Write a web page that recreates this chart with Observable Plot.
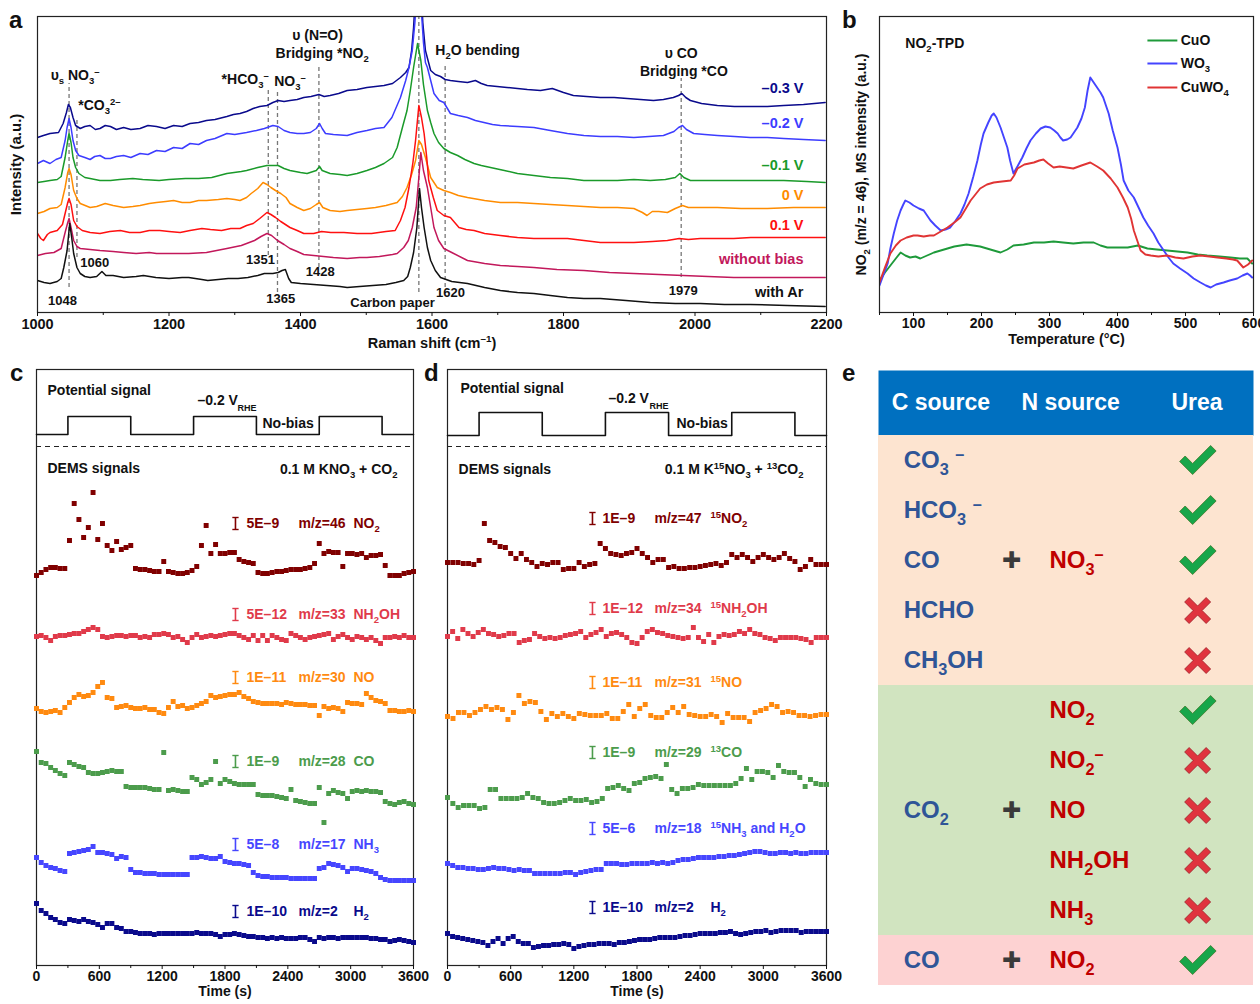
<!DOCTYPE html>
<html><head><meta charset="utf-8">
<script src="https://cdn.jsdelivr.net/npm/d3@7"></script>
<script src="https://cdn.jsdelivr.net/npm/@observablehq/plot@0.6"></script>
<style>
body{margin:0;background:#fff;}
#fig{position:relative;width:1260px;height:1004px;overflow:hidden;background:#fff;font-family:"Liberation Sans",Arial,Helvetica,sans-serif;}
.letter{position:absolute;font-weight:bold;font-size:24px;line-height:24px;color:#111;}
</style></head>
<body><div id="fig"></div>
<script>
// ---------------- DATA ----------------
// Panel a: Raman spectra, [Raman shift (cm-1), intensity (a.u., offset)]
const ramanM03 = [[1000,175],[1009,177],[1019,179],[1032,180],[1039,189],[1044,200],[1047,208],[1050,205],[1054,195],[1058,187],[1065,184],[1072,186],[1080,187],[1088,183],[1095,184],[1103,187],[1111,186],[1120,183],[1131,185],[1142,183],[1156,184],[1168,187],[1181,186],[1194,184],[1207,187],[1220,186],[1232,189],[1245,190],[1257,192],[1270,193],[1288,196],[1298,198],[1308,199],[1318,201],[1328,204],[1338,206],[1349,207],[1358,210],[1366,212],[1375,211],[1384,212],[1395,213],[1405,215],[1416,216],[1428,218],[1436,216],[1445,217],[1458,219],[1471,222],[1486,223],[1501,225],[1514,226],[1527,227],[1540,229],[1552,235],[1560,240],[1565,245],[1569,262],[1572,285],[1575,320],[1579,360],[1583,330],[1586,290],[1590,262],[1598,242],[1605,238],[1613,236],[1620,233],[1628,232],[1640,231],[1654,230],[1666,232],[1675,229],[1684,227],[1699,226],[1714,225],[1730,224],[1745,223],[1765,222],[1783,224],[1800,220],[1815,217],[1835,216],[1856,215],[1877,215],[1897,214],[1917,213],[1937,212],[1952,213],[1967,215],[1975,217],[1980,219],[1986,215],[1993,212],[2010,209],[2034,207],[2060,206],[2084,206],[2110,206],[2135,207],[2165,208],[2198,210]];
const ramanM02 = [[1000,149],[1009,152],[1019,149],[1028,153],[1036,155],[1042,172],[1045,185],[1048,194],[1051,185],[1054,172],[1058,162],[1063,157],[1072,155],[1080,153],[1087,156],[1095,157],[1103,154],[1111,154],[1120,156],[1131,157],[1142,155],[1156,159],[1168,158],[1181,162],[1194,161],[1207,165],[1220,164],[1232,169],[1245,168],[1257,172],[1270,174],[1288,179],[1300,178],[1318,180],[1333,182],[1345,184],[1358,187],[1366,186],[1375,182],[1384,180],[1395,179],[1405,179],[1415,180],[1424,184],[1429,189],[1433,184],[1438,179],[1450,178],[1471,177],[1486,180],[1501,182],[1514,184],[1527,185],[1539,195],[1552,215],[1560,232],[1565,245],[1570,262],[1574,290],[1577,320],[1580,340],[1584,300],[1587,270],[1590,250],[1593,245],[1603,219],[1611,212],[1618,210],[1628,199],[1640,197],[1654,195],[1666,192],[1679,190],[1692,188],[1704,187],[1730,186],[1755,185],[1780,182],[1806,179],[1831,177],[1856,176],[1882,176],[1907,175],[1930,176],[1952,177],[1968,181],[1975,185],[1981,187],[1987,183],[1998,179],[2015,178],[2034,177],[2060,176],[2084,175],[2110,175],[2135,174],[2165,173],[2198,172]];
const ramanM01 = [[1000,130],[1010,131],[1019,132],[1030,133],[1036,136],[1042,155],[1046,172],[1048,179],[1051,170],[1054,155],[1058,145],[1063,139],[1072,135],[1080,134],[1095,132],[1111,132],[1125,133],[1145,134],[1160,133],[1185,132],[1200,133],[1225,134],[1245,134],[1265,135],[1288,139],[1310,141],[1318,142],[1335,145],[1349,147],[1358,147],[1366,147],[1375,144],[1384,142],[1400,140],[1410,139],[1424,142],[1429,146],[1433,142],[1445,139],[1460,138],[1471,137],[1486,139],[1501,142],[1514,145],[1527,149],[1540,155],[1547,165],[1555,185],[1562,202],[1567,222],[1572,245],[1578,269],[1583,252],[1587,228],[1593,202],[1598,190],[1603,179],[1610,170],[1618,164],[1628,160],[1639,157],[1650,153],[1664,149],[1675,147],[1689,145],[1710,142],[1730,139],[1755,137],[1780,135],[1806,134],[1831,132],[1856,132],[1882,132],[1907,133],[1932,132],[1955,133],[1970,135],[1977,139],[1983,135],[1993,132],[2020,132],[2059,132],[2100,132],[2135,132],[2170,131],[2198,130]];
const ramanV0 = [[1000,99],[1010,101],[1019,104],[1030,105],[1036,108],[1042,125],[1046,140],[1048,144],[1051,138],[1055,122],[1060,114],[1065,109],[1080,105],[1090,106],[1103,109],[1115,107],[1131,105],[1145,106],[1156,107],[1170,109],[1181,110],[1195,111],[1207,112],[1220,110],[1232,110],[1245,112],[1257,112],[1275,113],[1288,114],[1300,113],[1308,112],[1318,115],[1325,119],[1335,124],[1343,130],[1349,128],[1355,125],[1362,122],[1370,119],[1378,115],[1384,109],[1395,105],[1405,102],[1415,104],[1424,108],[1429,110],[1434,105],[1445,102],[1460,101],[1471,102],[1486,103],[1501,104],[1514,105],[1530,107],[1547,110],[1555,116],[1562,125],[1569,138],[1575,152],[1580,172],[1584,168],[1590,155],[1598,135],[1608,125],[1618,122],[1628,120],[1640,117],[1654,115],[1680,112],[1704,110],[1730,110],[1755,109],[1780,108],[1806,107],[1831,106],[1856,105],[1882,105],[1907,104],[1920,100],[1927,97],[1935,101],[1945,101],[1958,100],[1970,104],[1981,107],[1990,105],[2010,105],[2034,105],[2070,104],[2110,104],[2150,105],[2198,105]];
const ramanP01 = [[1000,79],[1005,74],[1009,72],[1015,78],[1019,80],[1030,82],[1038,88],[1042,99],[1046,110],[1048,114],[1051,108],[1055,92],[1060,86],[1068,82],[1080,80],[1095,79],[1110,81],[1126,82],[1140,80],[1156,80],[1170,82],[1186,82],[1200,81],[1217,80],[1232,82],[1250,84],[1263,83],[1280,82],[1294,84],[1308,84],[1318,87],[1328,89],[1338,94],[1349,100],[1355,98],[1362,95],[1370,91],[1384,85],[1395,82],[1405,79],[1420,79],[1432,81],[1446,80],[1466,80],[1486,79],[1508,79],[1530,81],[1544,82],[1552,92],[1559,105],[1565,125],[1571,150],[1575,172],[1580,207],[1584,195],[1588,179],[1592,155],[1595,132],[1602,115],[1608,102],[1618,97],[1628,95],[1641,85],[1652,83],[1664,82],[1680,79],[1704,77],[1730,75],[1755,74],[1780,74],[1806,74],[1831,72],[1856,70],[1882,70],[1907,70],[1935,71],[1958,72],[1976,74],[1990,73],[2008,74],[2035,74],[2059,74],[2085,75],[2110,75],[2150,75],[2198,75]];
const ramanNoBias = [[1000,57],[1012,59],[1025,60],[1036,64],[1042,80],[1046,90],[1048,94],[1051,85],[1055,72],[1060,66],[1065,64],[1080,63],[1095,62],[1115,61],[1131,60],[1150,59],[1170,60],[1181,59],[1200,59],[1230,59],[1257,60],[1288,64],[1310,67],[1318,69],[1330,72],[1340,76],[1349,79],[1356,77],[1365,72],[1375,68],[1384,64],[1395,61],[1405,58],[1420,57],[1435,56],[1450,55],[1471,54],[1490,55],[1501,55],[1520,56],[1540,58],[1547,59],[1557,65],[1564,72],[1570,85],[1576,105],[1580,135],[1583,160],[1587,142],[1593,125],[1598,105],[1603,85],[1610,72],[1618,64],[1630,60],[1654,52],[1680,49],[1704,47],[1730,46],[1755,45],[1790,43],[1831,42],[1870,40],[1907,39],[1945,38],[1982,37],[2020,36],[2059,35],[2100,35],[2150,35],[2198,35]];
const ramanAr = [[1000,32],[1010,30],[1019,29],[1030,31],[1036,34],[1040,45],[1045,62],[1049,89],[1052,75],[1055,59],[1060,45],[1065,39],[1072,36],[1080,35],[1090,36],[1098,41],[1104,37],[1115,37],[1131,35],[1150,36],[1161,37],[1180,35],[1200,34],[1220,35],[1230,35],[1250,33],[1259,32],[1275,33],[1290,34],[1305,34],[1320,35],[1335,37],[1345,39],[1358,39],[1366,40],[1372,42],[1377,43],[1382,34],[1386,30],[1400,29],[1420,28],[1440,27],[1460,26],[1471,25],[1490,26],[1510,27],[1530,28],[1545,30],[1557,32],[1563,36],[1567,45],[1572,60],[1577,85],[1581,124],[1584,105],[1588,85],[1593,65],[1598,52],[1605,42],[1613,35],[1630,31],[1654,29],[1680,25],[1704,22],[1730,20],[1755,19],[1780,17],[1806,15],[1831,14],[1856,14],[1895,12],[1932,10],[1970,9],[2008,9],[2045,8],[2084,8],[2140,7],[2198,6]];
const ramanSeriesNames = ["–0.3 V","–0.2 V","–0.1 V","0 V","0.1 V","without bias","with Ar"];
// Band marker positions (cm-1) and their dashed-line extents (a.u.)
const bandShift = [1048,1060,1351,1365,1428,1580,1620,1979];
const bandTop = [229,194,222,220,247,296,247,234];
const bandBottom = [25,55,57,20,45,20,25,35];

// Panel b: NO2-TPD, [temperature (°C), MS intensity (a.u.)]
const tpdWO3 = [[50,27],[56,38],[62,49],[66,64],[71,79],[76,92],[81,102],[85,108],[88,112],[94,110],[100,107],[108,104],[115,102],[120,97],[125,92],[132,87],[140,82],[147,83],[154,85],[162,92],[169,99],[175,108],[181,119],[188,136],[194,152],[199,168],[203,179],[210,190],[215,197],[218,199],[222,195],[228,185],[233,175],[238,165],[242,152],[247,139],[252,145],[256,150],[260,155],[266,164],[272,172],[280,179],[287,184],[294,186],[301,185],[307,182],[312,179],[316,175],[320,172],[326,173],[331,175],[336,180],[341,185],[347,194],[352,205],[356,222],[360,235],[365,230],[370,225],[375,220],[379,215],[384,205],[387,199],[393,182],[400,165],[405,148],[409,132],[416,122],[424,115],[431,105],[438,95],[445,87],[453,79],[460,70],[468,62],[475,55],[482,49],[492,44],[503,39],[512,34],[522,30],[530,27],[537,25],[545,28],[556,30],[565,32],[576,34],[584,37],[591,39],[595,37],[598,35]];
const tpdCuWO4 = [[50,30],[58,45],[66,59],[74,67],[81,72],[90,75],[100,77],[106,77],[115,76],[124,77],[130,77],[140,81],[150,85],[160,90],[169,95],[177,104],[184,112],[191,118],[198,124],[208,128],[218,130],[230,131],[243,132],[248,137],[253,144],[263,148],[277,150],[285,152],[291,153],[298,149],[306,145],[315,146],[325,145],[335,144],[347,147],[360,150],[370,146],[379,142],[390,134],[400,125],[408,115],[415,105],[420,94],[424,82],[429,72],[434,62],[441,58],[449,57],[460,56],[473,57],[485,55],[497,54],[510,56],[522,57],[535,56],[547,55],[560,54],[570,53],[576,52],[585,45],[592,48],[598,52]];
const tpdCuO = [[50,32],[58,40],[66,47],[74,54],[81,60],[88,57],[95,55],[103,56],[110,54],[120,57],[130,60],[140,62],[150,64],[160,66],[169,67],[178,68],[188,67],[198,66],[208,64],[218,62],[228,60],[238,63],[247,67],[262,68],[277,70],[292,70],[306,71],[320,70],[335,69],[350,70],[365,70],[375,67],[385,65],[400,65],[415,65],[430,67],[444,64],[458,63],[473,62],[488,61],[503,60],[518,58],[532,57],[550,56],[566,55],[580,54],[591,54],[598,49]];
const tpdNames = ["CuO","WO₃","CuWO₄"];

// Panels c, d: potential programme (s) and bias state
const potentialTimes = [0,300,900,1500,2100,2700,3300,3600];
const potentialBias = [0,1,0,1,0,1,0,0];

// Panel c: DEMS signals (a.u., offset), evenly sampled over 0–3600 s
const cNO2 = [390,393,396,398,398,397,397,425,462,446,428,438,473,426,442,420,415,424,416,418,420,397,396,396,395,394,394,404,394,393,392,392,393,395,399,420,440,412,421,412,412,413,413,406,404,403,402,393,392,392,393,394,394,395,396,396,396,397,398,402,422,412,414,413,413,399,412,412,411,412,408,410,410,411,400,390,390,390,392,393,394];
const cNH2OH = [329,330,328,325,329,330,330,331,332,332,334,336,338,336,329,328,329,330,330,329,330,330,328,329,328,331,331,332,331,328,329,326,323,328,331,328,329,330,329,330,331,332,332,330,328,326,330,325,330,325,330,328,326,325,332,330,328,326,328,329,330,331,332,326,329,331,328,326,329,328,326,328,325,322,328,328,329,328,330,328,328];
const cNO = [257,254,253,254,255,253,258,263,268,271,269,270,273,279,283,268,267,258,259,260,258,257,257,258,256,256,253,252,258,264,259,260,257,258,260,262,264,270,268,269,270,271,271,273,269,267,264,263,262,262,262,262,261,263,262,261,261,261,260,260,250,259,257,258,257,254,263,262,262,261,272,268,265,264,262,255,255,254,254,255,254];
const cCO = [214,203,202,198,195,192,190,203,201,199,198,193,192,192,193,194,195,194,194,179,178,178,178,178,177,176,176,213,175,176,175,174,174,188,186,181,183,186,204,182,186,184,182,181,181,181,181,171,170,170,170,169,168,167,176,165,164,163,162,162,178,143,172,175,173,172,167,174,175,174,175,174,174,173,164,162,161,163,164,162,161];
const cNH3 = [108,103,100,98,97,95,94,112,113,114,115,116,119,113,113,112,111,107,109,108,96,93,93,92,92,92,91,91,91,91,91,91,91,108,108,109,108,107,107,109,104,103,102,102,101,100,93,90,89,89,88,88,88,88,87,87,87,87,87,87,97,98,102,101,100,98,94,97,97,96,95,94,92,88,86,85,85,85,85,85,85];
const cH2 = [62,55,52,48,46,43,42,46,45,44,46,44,43,41,38,42,42,38,37,34,34,33,32,32,32,31,32,32,32,32,32,32,32,32,33,32,32,32,31,29,31,31,32,31,30,29,29,28,28,27,28,27,28,27,27,27,28,28,26,24,28,27,28,28,27,28,28,28,28,28,28,27,27,26,26,24,25,26,25,24,23];

// Panel d: isotope-labelled DEMS signals (a.u., offset)
const dNO2 = [403,403,403,402,402,401,405,442,425,423,419,418,412,407,412,406,403,399,402,401,403,403,396,397,397,403,399,401,402,422,417,412,411,410,412,413,417,412,408,403,406,406,398,399,397,397,398,398,399,400,401,402,400,403,411,408,411,408,404,408,411,408,406,408,412,407,404,396,399,406,401,401,401];
const dNH2OH = [329,334,327,336,332,329,333,336,332,331,329,330,332,332,323,325,326,332,329,327,328,327,328,330,331,332,334,328,331,333,336,329,332,333,331,328,323,322,328,334,336,333,332,330,329,328,327,328,338,328,324,331,323,329,331,330,331,334,332,336,332,331,328,327,325,328,328,328,328,327,326,323,328,328,328];
const dNO = [249,247,253,253,250,253,256,259,256,258,256,246,253,270,262,264,263,254,246,252,249,252,249,247,252,251,250,250,250,252,247,247,254,261,249,257,261,250,248,248,253,258,253,259,251,250,249,249,251,249,243,252,248,248,248,244,253,255,257,261,259,253,254,253,250,250,249,250,251,251];
const dCO = [168,162,158,160,160,160,157,158,176,176,167,167,167,167,168,172,168,167,163,162,162,163,165,167,165,165,166,163,164,167,177,178,180,177,175,182,183,187,188,189,187,201,176,172,177,177,178,181,180,180,180,180,180,180,182,187,197,186,194,194,193,188,200,194,193,193,188,179,186,182,181,181];
const dNH3 = [102,100,98,98,97,97,96,96,97,98,97,97,96,95,96,95,95,92,92,92,92,92,92,93,93,91,93,94,95,96,96,102,102,102,101,101,102,102,102,102,103,102,103,102,103,105,106,106,107,108,108,108,108,109,109,110,110,111,112,113,114,114,113,112,112,113,113,112,113,112,112,113,113,113,113];
const dH2 = [32,29,28,27,26,25,24,23,20,24,27,22,27,29,24,22,22,18,19,20,20,21,21,22,21,17,19,20,21,21,22,22,22,21,23,23,24,25,26,26,26,27,28,28,28,28,29,30,30,31,32,32,32,32,33,33,34,32,31,32,33,34,34,35,33,34,35,35,35,35,33,34,34,34,34,34];

// Labels for the DEMS traces
const cScales = ["5E–9","5E–12","1E–11","1E–9","5E–8","1E–10"];
const cMasses = ["m/z=46","m/z=33","m/z=30","m/z=28","m/z=17","m/z=2"];
const cSpecies = ["NO₂","NH₂OH","NO","CO","NH₃","H₂"];
const dScales = ["1E–9","1E–12","1E–11","1E–9","5E–6","1E–10"];
const dMasses = ["m/z=47","m/z=34","m/z=31","m/z=29","m/z=18","m/z=2"];
const dSpecies = ["¹⁵NO₂","¹⁵NH₂OH","¹⁵NO","¹³CO","¹⁵NH₃ and H₂O","H₂"];
const cLabelLevel = [442,351,288,204,121,54];
const dLabelLevel = [447,357,283,213,137,58];

// Panel e: table
const tableHeader = ["C source","N source","Urea"];
const tableCSource = ["CO₃ ⁻","HCO₃ ⁻","CO","HCHO","CH₃OH","","","CO₂","","","CO"];
const tablePlus = [0,0,1,0,0,0,0,1,0,0,1];
const tableNSource = ["","","NO₃⁻","","","NO₂","NO₂⁻","NO","NH₂OH","NH₃","NO₂"];
const tableUrea = [1,1,1,0,0,1,0,0,0,0,1];
const tableGroup = [0,0,0,0,0,1,1,1,1,1,2];

// ---------------- STYLE / LAYOUT ----------------
const FONT = '"Liberation Sans", Arial, Helvetica, sans-serif';
const ramanColors = ["#0a0a8c","#3c3cff","#1a9a2a","#ff8c00","#ff1010","#c2185b","#111111"];
const tpdColors = ["#1e9a3a","#4444ff","#e03434"];
const demsColors = ["#800000","#e03a4a","#ff8a10","#4c9c4c","#4646ff","#0a0a8c"];
const groupFill = ["#fde4d0","#d1e4c0","#fdd2d2"];
const fig = document.getElementById("fig");
function place(el, left, top, w) {
  const d = document.createElement("div");
  d.style.position = "absolute"; d.style.left = left + "px"; d.style.top = top + "px"; d.style.width = w + "px";
  d.appendChild(el); fig.appendChild(d);
  richify(el);
}
function letter(ch, left, top) {
  const d = document.createElement("div"); d.className = "letter"; d.textContent = ch;
  d.style.left = left + "px"; d.style.top = top + "px"; fig.appendChild(d);
}
// turn Unicode sub/superscript characters into shifted tspans (real text kept)
const SUB = {"₀":"0","₁":"1","₂":"2","₃":"3","₄":"4","₅":"5","₆":"6","₇":"7","₈":"8","₉":"9","ₛ":"s"};
const SUP = {"⁰":"0","¹":"1","²":"2","³":"3","⁴":"4","⁵":"5","⁶":"6","⁷":"7","⁸":"8","⁹":"9","⁻":"–"};
function richify(root) {
  root.querySelectorAll("text").forEach(el => {
    if (el.querySelector("tspan")) return;
    const chars = [...el.textContent];
    if (!chars.some(c => c in SUB || c in SUP)) return;
    const fs = parseFloat(getComputedStyle(el).fontSize) || 14;
    const runs = [];
    for (const c of chars) {
      const type = c in SUB ? 1 : c in SUP ? -1 : 0;
      const ch = type === 1 ? SUB[c] : type === -1 ? SUP[c] : c;
      if (runs.length && runs[runs.length - 1].type === type) runs[runs.length - 1].s += ch;
      else runs.push({type, s: ch});
    }
    const dyAttr = el.getAttribute("dy");
    let baseDy = 0;
    if (dyAttr) baseDy = dyAttr.endsWith("em") ? parseFloat(dyAttr) * fs : parseFloat(dyAttr);
    el.textContent = "";
    let cur = 0;
    runs.forEach((r, k) => {
      const ts = document.createElementNS("http://www.w3.org/2000/svg", "tspan");
      const target = r.type === 1 ? 0.28 * fs : r.type === -1 ? -0.36 * fs : 0;
      let dy = target - cur;
      if (k === 0) dy += baseDy;
      ts.setAttribute("dy", dy.toFixed(2));
      if (r.type) ts.setAttribute("font-size", (0.68 * fs).toFixed(1));
      cur = target;
      ts.textContent = r.s;
      el.appendChild(ts);
    });
  });
}
// custom symbols for the table (tick and cross), unit = 1/18 of the radius
const checkSymbol = {draw(ctx, size) {
  const u = Math.sqrt(size / Math.PI) / 18;
  const p = [[-18,1],[-12.5,-4.5],[-5,3],[13,-15],[18.5,-9.5],[-5,14]];
  ctx.moveTo(p[0][0] * u, p[0][1] * u);
  for (let i = 1; i < p.length; ++i) ctx.lineTo(p[i][0] * u, p[i][1] * u);
  ctx.closePath();
}};
const crossSymbol = {draw(ctx, size) {
  const u = Math.sqrt(size / Math.PI) / 18;
  const p = [[-13,-8.5],[-8.5,-13],[0,-4.5],[8.5,-13],[13,-8.5],[4.5,0],[13,8.5],[8.5,13],[0,4.5],[-8.5,13],[-13,8.5],[-4.5,0]];
  ctx.moveTo(p[0][0] * u, p[0][1] * u);
  for (let i = 1; i < p.length; ++i) ctx.lineTo(p[i][0] * u, p[i][1] * u);
  ctx.closePath();
}};
const baseStyle = (fs) => ({fontFamily: FONT, fontSize: fs, fontWeight: "bold", overflow: "visible", background: "transparent", color: "#111"});
const T = (x, y, text, o = {}) => Plot.text([text], {x: () => x, y: () => y, text: d => d, ...o});

// ---------------- PANEL a ----------------
const ramanData = [ramanM03, ramanM02, ramanM01, ramanV0, ramanP01, ramanNoBias, ramanAr];
const ramanNameLevel = [224,189,147,117,87,53,20];
const pa = Plot.plot({
  width: 840, height: 360, marginLeft: 37, marginRight: 14, marginTop: 16, marginBottom: 48,
  style: baseStyle("14px"),
  x: {domain: [1000, 2200]},
  y: {domain: [0, 296], axis: null},
  marks: [
    Plot.ruleX(bandShift, {x: d => d, y1: (d, i) => bandBottom[i], y2: (d, i) => bandTop[i], stroke: "#777", strokeWidth: 1.3, strokeDasharray: "4,3"}),
    ...ramanData.map((s, k) => Plot.line(s, {x: d => d[0], y: d => d[1], stroke: ramanColors[k], strokeWidth: 1.5, clip: true})),
    Plot.frame({stroke: "#222", strokeWidth: 1.2}),
    Plot.axisX({ticks: [1000,1200,1400,1600,1800,2000,2200], tickFormat: "d", tickSize: 4, tickPadding: 2, label: null, fontSize: 14.5}),
    Plot.axisX({ticks: [1100,1300,1500,1700,1900,2100], tickFormat: () => "", tickSize: 3, label: null}),
    ...ramanSeriesNames.map((n, k) => T(2165, ramanNameLevel[k], n, {textAnchor: "end", fill: ramanColors[k], fontSize: 14.5})),
    T(1020, 237, "υₛ NO₃⁻", {textAnchor: "start"}),
    T(1062, 207, "*CO₃²⁻", {textAnchor: "start"}),
    T(1280, 233, "*HCO₃⁻", {textAnchor: "start"}),
    T(1360, 231, "NO₃⁻", {textAnchor: "start"}),
    T(1426, 277, "υ (N=O)", {textAnchor: "middle"}),
    T(1433, 259, "Bridging *NO₂", {textAnchor: "middle"}),
    T(1605, 262, "H₂O bending", {textAnchor: "start"}),
    T(1979, 259, "υ CO", {textAnchor: "middle"}),
    T(1983, 241, "Bridging *CO", {textAnchor: "middle"}),
    T(1038, 12, "1048", {fontSize: 13}),
    T(1087, 50, "1060", {fontSize: 13}),
    T(1339, 53, "1351", {fontSize: 13}),
    T(1370, 14, "1365", {fontSize: 13}),
    T(1430, 41, "1428", {fontSize: 13}),
    T(1540, 10, "Carbon paper", {fontSize: 13}),
    T(1628, 20, "1620", {fontSize: 13}),
    T(1982, 22, "1979", {fontSize: 13}),
    Plot.text(["Raman shift (cm⁻¹)"], {frameAnchor: "bottom", dy: 35, fontSize: 14.5, textAnchor: "middle"}),
    Plot.text(["Intensity (a.u.)"], {frameAnchor: "left", dx: -21, rotate: -90, fontSize: 15, textAnchor: "middle"})
  ]
});
place(pa, 0, 0, 840);

// ---------------- PANEL b ----------------
const tpdData = [tpdCuO, tpdWO3, tpdCuWO4];
const tpdLegendLevel = [272, 249, 225];
const pb = Plot.plot({
  width: 420, height: 360, marginLeft: 39, marginRight: 7, marginTop: 16, marginBottom: 48,
  style: baseStyle("14px"),
  x: {domain: [50, 600]},
  y: {domain: [0, 296], axis: null},
  marks: [
    ...tpdData.map((s, k) => Plot.line(s, {x: d => d[0], y: d => d[1], stroke: tpdColors[k], strokeWidth: 1.9, clip: true})),
    Plot.frame({stroke: "#222", strokeWidth: 1.2}),
    Plot.axisX({ticks: [100,200,300,400,500,600], tickFormat: "d", tickSize: 4, tickPadding: 2, label: null, fontSize: 14}),
    Plot.axisX({ticks: [50,150,250,350,450,550], tickFormat: () => "", tickSize: 3, label: null}),
    ...tpdNames.map((n, k) => Plot.link([n], {x1: () => 444, x2: () => 488, y1: () => tpdLegendLevel[k], y2: () => tpdLegendLevel[k], stroke: tpdColors[k], strokeWidth: 2})),
    ...tpdNames.map((n, k) => T(493, tpdLegendLevel[k], n, {textAnchor: "start", fontSize: 14})),
    T(88, 269, "NO₂-TPD", {textAnchor: "start", fontSize: 14}),
    Plot.text(["Temperature (°C)"], {frameAnchor: "bottom", dy: 31, fontSize: 14.5, textAnchor: "middle"}),
    Plot.text(["NO₂ (m/z = 46), MS intensity (a.u.)"], {frameAnchor: "left", dx: -18, rotate: -90, fontSize: 14, textAnchor: "middle"})
  ]
});
place(pb, 840, 0, 420);

// ---------------- PANELS c, d ----------------
function evenly(vals) { const n = vals.length; return vals.map((v, i) => ({t: i * 3600 / (n - 1), v})); }
function dems(cfg) {
  const pot = potentialTimes.map((t, i) => ({t, v: potentialBias[i] ? cfg.hi : cfg.lo}));
  const marks = [
    Plot.frame({stroke: "#222", strokeWidth: 1.2}),
    Plot.axisX({ticks: [0,600,1200,1800,2400,3000,3600], tickFormat: "d", tickSize: 4, tickPadding: 2, label: null, fontSize: 14}),
    Plot.axisX({ticks: [300,900,1500,2100,2700,3300], tickFormat: () => "", tickSize: 3, label: null}),
    Plot.line(pot, {x: "t", y: "v", curve: "step-after", stroke: "#111", strokeWidth: 1.6}),
    Plot.ruleY([cfg.dash], {stroke: "#222", strokeWidth: 1.2, strokeDasharray: "5,4"}),
    T(cfg.txt.pot[0], cfg.txt.pot[1], "Potential signal", {textAnchor: "start"}),
    T(cfg.txt.v[0], cfg.txt.v[1], "–0.2 V", {textAnchor: "start"}),
    T(cfg.txt.rhe[0], cfg.txt.rhe[1], "RHE", {textAnchor: "start", fontSize: 9}),
    T(cfg.txt.nb[0], cfg.txt.nb[1], "No-bias", {textAnchor: "start"}),
    T(cfg.txt.dems[0], cfg.txt.dems[1], "DEMS signals", {textAnchor: "start"}),
    T(cfg.txt.sol[0], cfg.txt.sol[1], cfg.solution, {textAnchor: "end"}),
    Plot.text(["Time (s)"], {frameAnchor: "bottom", dy: 30, textAnchor: "middle"})
  ];
  cfg.series.forEach((vals, k) => {
    marks.push(Plot.dot(evenly(vals), {x: "t", y: "v", symbol: "square", r: 2.8, fill: demsColors[k], stroke: null}));
    const lv = cfg.level[k], c = demsColors[k], bx = cfg.lx[0];
    marks.push(Plot.ruleX([bx], {x: d => d, y1: lv - 6, y2: lv + 6, stroke: c, strokeWidth: 1.6}));
    marks.push(Plot.link([bx], {x1: d => d - 30, x2: d => d + 30, y1: lv + 6, y2: lv + 6, stroke: c, strokeWidth: 1.4}));
    marks.push(Plot.link([bx], {x1: d => d - 30, x2: d => d + 30, y1: lv - 6, y2: lv - 6, stroke: c, strokeWidth: 1.4}));
    marks.push(T(cfg.lx[1], lv, cfg.scales[k], {textAnchor: "start", fill: c}));
    marks.push(T(cfg.lx[2], lv, cfg.masses[k], {textAnchor: "start", fill: c}));
    marks.push(T(cfg.lx[3], lv, cfg.species[k], {textAnchor: "start", fill: c}));
  });
  return Plot.plot({
    width: 420, height: 644, marginLeft: cfg.ml, marginRight: cfg.mr, marginTop: 9, marginBottom: 39,
    style: baseStyle("14px"),
    x: {domain: [0, 3600]},
    y: {domain: [0, 596], axis: null},
    marks
  });
}
const pc = dems({
  ml: 36, mr: 7, lo: 531, hi: 549, dash: 519,
  series: [cNO2, cNH2OH, cNO, cCO, cNH3, cH2],
  level: cLabelLevel, scales: cScales, masses: cMasses, species: cSpecies,
  lx: [1900, 2005, 2502, 3027],
  solution: "0.1 M KNO₃ + CO₂",
  txt: {pot: [105, 575], v: [1537, 565], rhe: [1919, 557], nb: [2158, 542], dems: [105, 497], sol: [3447, 496]}
});
place(pc, 0, 360, 420);
const pd = dems({
  ml: 27, mr: 14, lo: 530, hi: 553, dash: 519,
  series: [dNO2, dNH2OH, dNO, dCO, dNH3, dH2],
  level: dLabelLevel, scales: dScales, masses: dMasses, species: dSpecies,
  lx: [1377, 1472, 1966, 2498],
  solution: "0.1 M K¹⁵NO₃ + ¹³CO₂",
  txt: {pot: [123, 577], v: [1529, 567], rhe: [1919, 559], nb: [2175, 542], dems: [105, 496], sol: [3382, 496]}
});
place(pd, 420, 360, 420);

// ---------------- PANEL e ----------------
const col = {hC: 0.035, hN: 0.381, hU: 0.781, c: 0.067, plus: 0.355, n: 0.456, u: 0.851};
const pe1 = Plot.plot({
  width: 375, height: 65, margin: 0,
  style: baseStyle("23px"),
  x: {domain: [0, 1], axis: null}, y: {domain: [0, 1], axis: null},
  marks: [
    Plot.frame({fill: "#0070c0", stroke: null}),
    Plot.text(tableHeader, {x: (d, i) => [col.hC, col.hN, col.hU][i], text: d => d, textAnchor: "start", fill: "white", fontSize: 23})
  ]
});
place(pe1, 878, 370, 375);
const rows = tableCSource.map((c, i) => i);
const pe2 = Plot.plot({
  width: 375, height: 550, margin: 0,
  style: baseStyle("23px"),
  x: {domain: [0, 1], axis: null},
  y: {type: "band", domain: rows, padding: 0, axis: null},
  marks: [
    ...groupFill.map((f, g) => Plot.barX(rows.filter(i => tableGroup[i] === g), {x1: 0, x2: 1, y: d => d, fill: f, inset: 0})),
    Plot.text(rows.filter(i => tableCSource[i]), {x: col.c, y: d => d, text: i => tableCSource[i], textAnchor: "start", fill: "#2f5597", fontSize: 24}),
    Plot.text(rows.filter(i => tablePlus[i]), {x: col.plus, y: d => d, text: () => "✚", fill: "#3a3a3a", fontSize: 23, fontFamily: "DejaVu Sans"}),
    Plot.text(rows.filter(i => tableNSource[i]), {x: col.n, y: d => d, text: i => tableNSource[i], textAnchor: "start", fill: "#c00000", fontSize: 24}),
    Plot.dot(rows.filter(i => tableUrea[i]), {x: col.u, y: d => d, symbol: checkSymbol, r: 18, fill: "#17a64a", stroke: "#3d7a2a", strokeWidth: 0.8}),
    Plot.dot(rows.filter(i => !tableUrea[i]), {x: col.u, y: d => d, symbol: crossSymbol, r: 18, fill: "#e0343e", stroke: "#a0202a", strokeWidth: 0.8})
  ]
});
place(pe2, 878, 435, 375);

// panel letters
letter("a", 9, 8); letter("b", 842, 8); letter("c", 10, 361); letter("d", 424, 361); letter("e", 842, 361);
</script>
</body></html>
